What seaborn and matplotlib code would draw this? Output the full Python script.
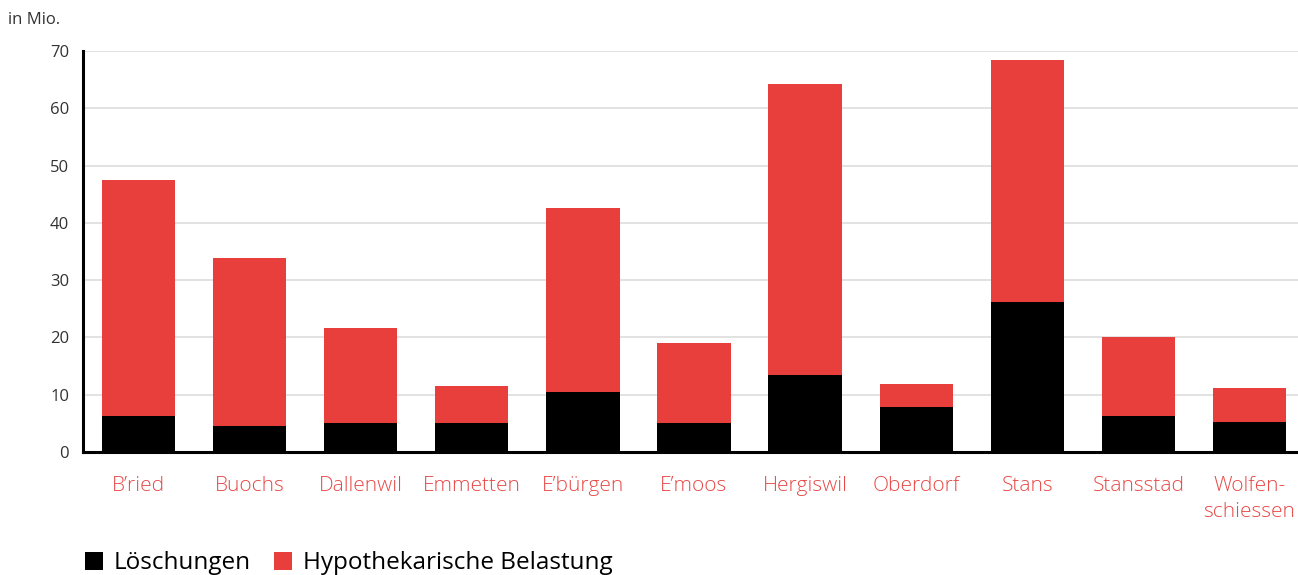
import matplotlib
matplotlib.use("Agg")
import matplotlib.pyplot as plt
from matplotlib.patches import Patch
import numpy as np
import pandas as pd
import seaborn as sns

# Gemeinden und Werte (in Mio. CHF)
gemeinden = ["B\u2019ried", "Buochs", "Dallenwil", "Emmetten", "E\u2019b\u00fcrgen",
             "E\u2019moos", "Hergiswil", "Oberdorf", "Stans", "Stansstad",
             "Wolfen-\nschiessen"]
loeschungen = [6.2, 4.5, 5.0, 5.0, 10.4, 5.0, 13.5, 7.9, 26.2, 6.3, 5.2]
belastung = [41.3, 29.3, 16.6, 6.6, 32.2, 14.1, 50.7, 4.0, 42.2, 13.8, 6.0]
y_ticks = [0, 10, 20, 30, 40, 50, 60, 70]

ROT = "#e83e3c"
ROT_TEXT = "#e84846"
SCHWARZ = "#000000"
TEXT = "#333333"

sns.set_theme(style="white")
plt.rcParams["font.family"] = ["Open Sans", "DejaVu Sans"]

df = pd.DataFrame({
    "Gemeinde": gemeinden,
    "Löschungen": loeschungen,
    "Belastung": belastung,
})
df["Total"] = df["Löschungen"] + df["Belastung"]

W, H = 1298, 575
fig = plt.figure(figsize=(W / 100, H / 100), dpi=100)
ax = fig.add_axes([83 / W, (H - 452) / H, (1305 - 83) / W, 401 / H])

# Gestapelte Säulen: Gesamthöhe rot, Löschungen schwarz darüber gelegt
sns.barplot(data=df, x="Gemeinde", y="Total", color=ROT, width=0.66,
            saturation=1, ax=ax, zorder=2)
sns.barplot(data=df, x="Gemeinde", y="Löschungen", color=SCHWARZ, width=0.66,
            saturation=1, ax=ax, zorder=3)
for p in ax.patches:
    p.set_linewidth(0)

ax.set_xlim(-0.5, len(gemeinden) - 0.5)
ax.set_ylim(0, 70)
ax.set_yticks(y_ticks)
ax.yaxis.grid(True, color="#dddddd", linewidth=1.2, zorder=0)
ax.xaxis.grid(False)
ax.set_axisbelow(True)

ax.set_xlabel("")
ax.set_ylabel("")

for side in ["top", "right"]:
    ax.spines[side].set_visible(False)
for side in ["left", "bottom"]:
    ax.spines[side].set_color("black")
    ax.spines[side].set_linewidth(2.2)
    ax.spines[side].set_zorder(4)

ax.tick_params(axis="y", length=0, pad=10, labelsize=12, labelcolor=TEXT)
ax.tick_params(axis="x", which="major", length=0, pad=17, labelsize=15,
               labelcolor=ROT_TEXT)
ax.set_xticks(np.arange(len(gemeinden)))
ax.set_xticklabels(gemeinden, linespacing=1.45, va="top", fontweight="light")
ax.set_xticks(np.arange(0.5, len(gemeinden) - 0.5, 1.0), minor=True)
ax.tick_params(axis="x", which="minor", length=5, width=1.5, color="black",
               direction="out")

fig.text(8 / W, 1 - 20 / H, "in Mio.", fontsize=12, color=TEXT, va="center",
         ha="left")

handles = [Patch(facecolor=SCHWARZ, edgecolor="none", label="Löschungen"),
           Patch(facecolor=ROT, edgecolor="none", label="Hypothekarische Belastung")]
fig.legend(handles=handles, loc="lower left", bbox_to_anchor=(63 / W, -22 / H),
           ncol=2, frameon=False, fontsize=17.5, handlelength=0.75,
           handleheight=0.75, handletextpad=0.45, columnspacing=0.95,
           labelcolor="black")

fig.savefig("out.png", dpi=100)
